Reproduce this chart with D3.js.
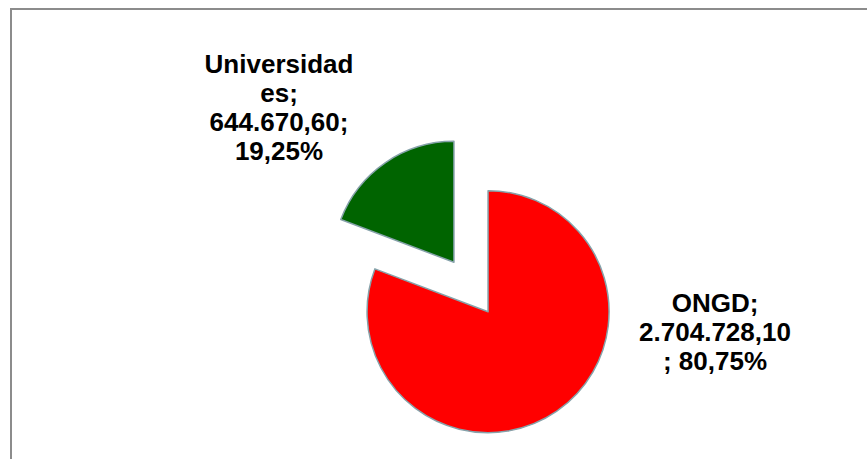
<meta charset="utf-8">
<script src="https://cdn.jsdelivr.net/npm/d3@7"></script>
<style>
  body { margin: 0; background: #fff; }
  text { font-family: "Liberation Sans", Arial, sans-serif; font-weight: bold; fill: #000; }
</style>
<div id="chart"></div>
<script>
// data
var categories = ["ONGD", "Universidades"];
var values = [2704728.10, 644670.60];
var valueLabels = ["2.704.728,10", "644.670,60"];
var percentLabels = ["80,75%", "19,25%"];
var colors = ["#ff0000", "#006400"];
// label lines as Excel wrapped them
var labelLines = [
  ["ONGD;", "2.704.728,10", "; 80,75%"],
  ["Universidad", "es;", "644.670,60;", "19,25%"]
];

var width = 867, height = 459;
var cx = 471, cy = 287, radius = 121, explode = 30;
// label centers relative to the pie centre
var labelPos = [[244, 25], [-192, -214]];

var svg = d3.select("#chart").append("svg")
  .attr("width", width)
  .attr("height", height);

// chart area frame (runs off the right and bottom)
svg.append("rect")
  .attr("x", 11).attr("y", 9)
  .attr("width", 900).attr("height", 500)
  .attr("fill", "none")
  .attr("stroke", "#8c8c8c")
  .attr("stroke-width", 2);

var pie = d3.pie().sort(null).value(function(d) { return d; });
var arcs = pie(values);
var arc = d3.arc().innerRadius(0).outerRadius(radius);

var g = svg.append("g").attr("transform", "translate(" + cx + "," + cy + ")");

g.selectAll("path")
  .data(arcs)
  .enter()
  .append("path")
    .attr("d", arc)
    .attr("transform", function(d) {
      var a = (d.startAngle + d.endAngle) / 2;
      return "translate(" + (Math.sin(a) * explode) + "," + (-Math.cos(a) * explode) + ")";
    })
    .attr("fill", function(d, i) { return colors[i]; })
    .attr("stroke", "#86a2aa")
    .attr("stroke-width", 1.5)
    .attr("stroke-linejoin", "round");

var lineH = 29;
arcs.forEach(function(d, i) {
  var t = g.append("text")
    .attr("text-anchor", "middle")
    .style("font-size", "26px")
    .attr("x", labelPos[i][0])
    .attr("y", labelPos[i][1]);
  labelLines[i].forEach(function(line, j) {
    t.append("tspan")
      .attr("x", labelPos[i][0])
      .attr("y", labelPos[i][1] + j * lineH)
      .text(line);
  });
});
</script>
